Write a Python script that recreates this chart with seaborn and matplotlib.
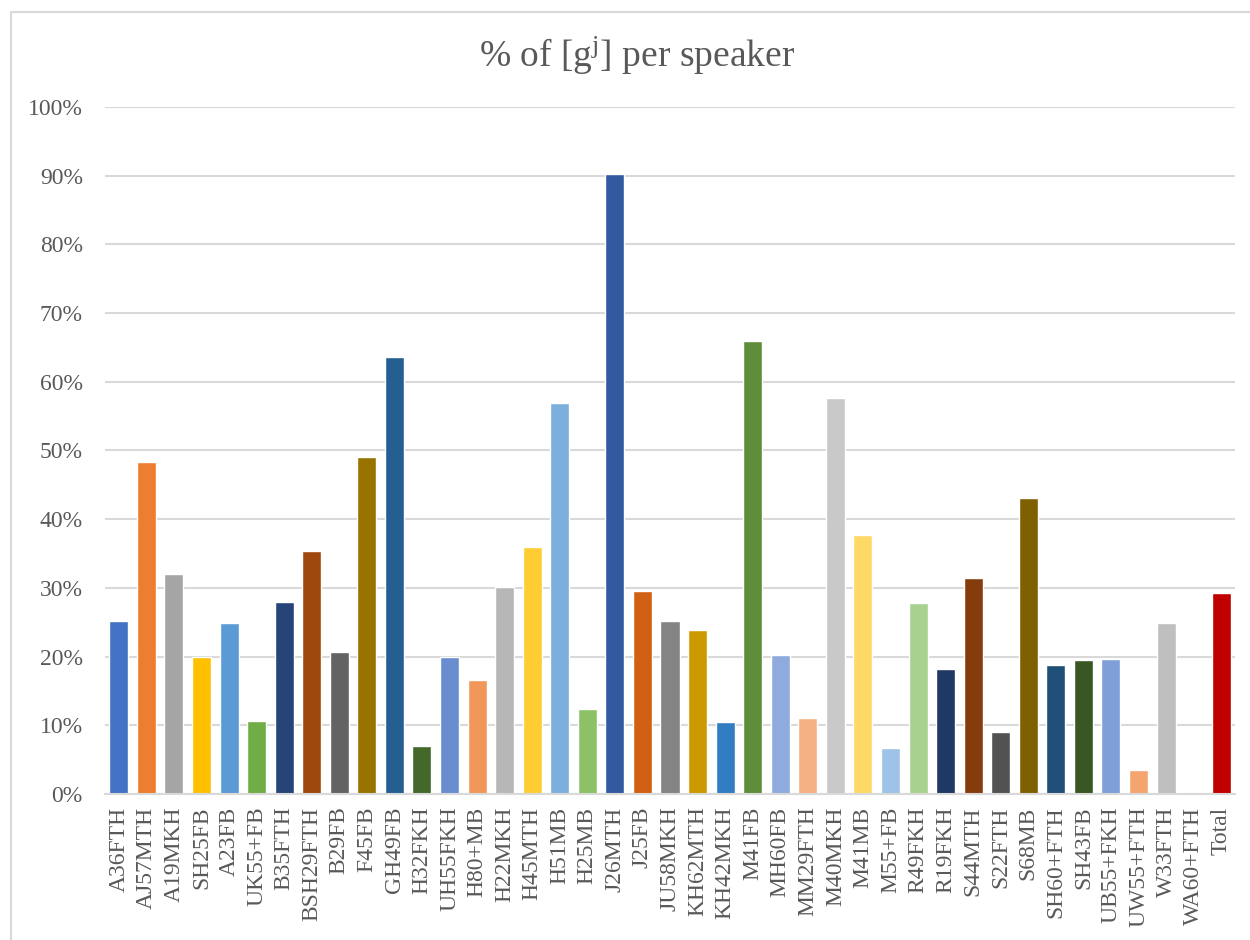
import matplotlib
matplotlib.use("Agg")
import matplotlib.pyplot as plt
import seaborn as sns
from matplotlib.ticker import PercentFormatter
from matplotlib.lines import Line2D

# 화자별 [gʲ] 비율 (%)
speakers = ['A36FTH', 'AJ57MTH', 'A19MKH', 'SH25FB', 'A23FB', 'UK55+FB', 'B35FTH', 'BSH29FTH',
            'B29FB', 'F45FB', 'GH49FB', 'H32FKH', 'UH55FKH', 'H80+MB', 'H22MKH', 'H45MTH',
            'H51MB', 'H25MB', 'J26MTH', 'J25FB', 'JU58MKH', 'KH62MTH', 'KH42MKH', 'M41FB',
            'MH60FB', 'MM29FTH', 'M40MKH', 'M41MB', 'M55+FB', 'R49FKH', 'R19FKH', 'S44MTH',
            'S22FTH', 'S68MB', 'SH60+FTH', 'SH43FB', 'UB55+FKH', 'UW55+FTH', 'W33FTH',
            'WA60+FTH', 'Total']
values = [25.2, 48.3, 32.0, 19.9, 24.9, 10.6, 28.0, 35.4,
          20.7, 49.0, 63.6, 7.0, 20.0, 16.6, 30.1, 35.9,
          56.9, 12.4, 90.2, 29.5, 25.2, 23.9, 10.5, 65.9,
          20.2, 11.1, 57.6, 37.7, 6.7, 27.8, 18.2, 31.5,
          9.0, 43.1, 18.8, 19.5, 19.6, 3.5, 24.9,
          0.0, 29.3]
colors = ['#4472C4', '#ED7D31', '#A5A5A5', '#FFC000', '#5B9BD5', '#70AD47',
          '#264478', '#9E480E', '#636363', '#997300', '#255E91', '#43682B',
          '#698ED0', '#F1975A', '#B7B7B7', '#FFCD33', '#7CAFDD', '#8CC168',
          '#335AA1', '#D26012', '#848484', '#CC9A00', '#327DC2', '#5E8E3A',
          '#8FAADC', '#F4B183', '#C9C9C9', '#FFD966', '#9DC3E6', '#A9D18E',
          '#203864', '#843C0C', '#525252', '#7F6000', '#1F4E79', '#385723',
          '#7F9FD9', '#F4A46E', '#BFBFBF', '#FFFFFF', '#C00000']

sns.set_style('white')
plt.rcParams['font.family'] = ['Liberation Serif', 'DejaVu Serif']
plt.rcParams['mathtext.fontset'] = 'custom'
plt.rcParams['mathtext.rm'] = 'Liberation Serif'
plt.rcParams['mathtext.it'] = 'Liberation Serif:italic'

txt = '#595959'
grid = '#D9D9D9'

fig = plt.figure(figsize=(12.5, 9.4), dpi=100)
ax = fig.add_axes([0.084, 0.1553, 0.904, 0.7309])

ax.yaxis.grid(True, color=grid, linewidth=1.5)
ax.set_axisbelow(True)

sns.barplot(x=speakers, y=values, hue=speakers, palette=colors, width=0.69,
            saturation=1, legend=False, ax=ax)

ax.set_ylim(0, 100)
ax.set_yticks(range(0, 101, 10))
ax.yaxis.set_major_formatter(PercentFormatter(xmax=100, decimals=0))
ax.set_xlim(-0.5, len(speakers) - 0.5)

for s in ['top', 'right', 'left']:
    ax.spines[s].set_visible(False)
ax.spines['bottom'].set_color(grid)
ax.spines['bottom'].set_linewidth(1.5)

ax.tick_params(axis='y', length=0, pad=16, labelsize=17, labelcolor=txt)
ax.tick_params(axis='x', length=0, pad=9, labelsize=17, labelcolor=txt, labelrotation=90)
ax.set_xlabel('')
ax.set_ylabel('')

fig.text(0.51, 0.941, r'% of [g$^\mathrm{j}$] per speaker', ha='center', va='center',
         fontsize=27, color=txt)

# 차트 테두리
fig.add_artist(Line2D([11 / 1250, 11 / 1250], [0, 1 - 12 / 940], color=grid, linewidth=1.5))
fig.add_artist(Line2D([11 / 1250, 1], [1 - 12 / 940, 1 - 12 / 940], color=grid, linewidth=1.5))

fig.savefig('out.png', dpi=100)
